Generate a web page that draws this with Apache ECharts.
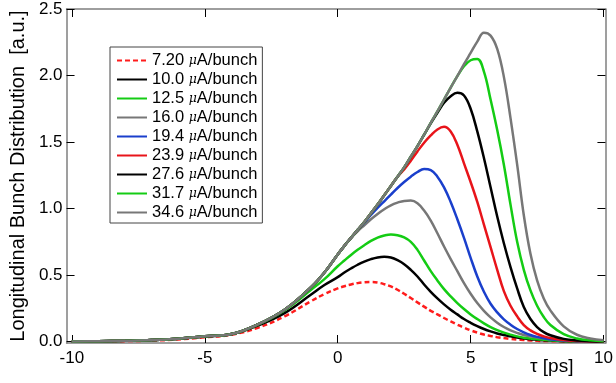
<!DOCTYPE html>
<html>
<head>
<meta charset="utf-8">
<script src="https://cdn.jsdelivr.net/npm/echarts@6/dist/echarts.min.js"></script>
<style>
html,body{margin:0;padding:0;background:#fff;}
#c{width:616px;height:383px;}
</style>
</head>
<body>
<div id="c"></div>
<script>
// τ sample positions [ps]
const tau = [-10,-9,-8,-7,-6,-5,-4,-3,-2,-1,-0.5,
  0,0.25,0.5,0.75,1,1.25,1.5,1.75,2,
  2.25,2.5,2.75,3,3.25,3.5,3.75,4,
  4.25,4.5,4.75,5,5.25,5.5,5.75,6,
  6.25,6.5,6.75,7,7.25,7.5,7.75,8,
  8.5,9,9.5,10];

const names = ['7.20 μA/bunch','10.0 μA/bunch','12.5 μA/bunch','16.0 μA/bunch','19.4 μA/bunch','23.9 μA/bunch','27.6 μA/bunch','31.7 μA/bunch','34.6 μA/bunch'];

const s7_20 = [0.001,0.002,0.004,0.008,0.017,0.033,0.052,0.105,0.19,0.305,0.358,
  0.40,0.417,0.43,0.44,0.446,0.448,0.444,0.432,0.415,
  0.39,0.36,0.328,0.295,0.263,0.232,0.205,0.178,
  0.152,0.128,0.105,0.085,0.068,0.054,0.043,0.034,
  0.027,0.021,0.016,0.012,0.009,0.007,0.005,0.004,
  0.002,0.001,0.0005,0];
const s10_0 = [0.002,0.004,0.007,0.012,0.021,0.039,0.055,0.122,0.215,0.355,0.426,
  0.485,0.52,0.55,0.578,0.602,0.62,0.633,0.638,0.632,
  0.612,0.582,0.54,0.49,0.43,0.375,0.325,0.28,
  0.24,0.205,0.17,0.142,0.117,0.095,0.077,0.062,
  0.05,0.04,0.031,0.024,0.018,0.014,0.01,0.008,
  0.004,0.002,0.001,0];
const s12_5 = [0.002,0.004,0.007,0.012,0.022,0.04,0.057,0.128,0.235,0.39,0.47,
  0.567,0.61,0.652,0.69,0.725,0.757,0.782,0.798,0.806,
  0.8,0.783,0.75,0.69,0.61,0.53,0.46,0.395,
  0.34,0.29,0.245,0.205,0.17,0.138,0.11,0.087,
  0.068,0.053,0.04,0.03,0.024,0.018,0.014,0.01,
  0.005,0.003,0.001,0];
const s16_0 = [0.002,0.004,0.007,0.012,0.022,0.04,0.057,0.13,0.24,0.41,0.52,
  0.655,0.72,0.78,0.83,0.875,0.92,0.96,0.995,1.025,
  1.045,1.058,1.06,1.04,0.985,0.91,0.815,0.715,
  0.62,0.53,0.44,0.36,0.29,0.232,0.183,0.143,
  0.11,0.085,0.066,0.05,0.04,0.031,0.024,0.018,
  0.01,0.005,0.002,0];
const s19_4 = [0.002,0.004,0.007,0.012,0.022,0.04,0.057,0.13,0.24,0.41,0.52,
  0.655,0.72,0.78,0.84,0.895,0.952,1.005,1.055,1.105,
  1.155,1.2,1.24,1.275,1.298,1.29,1.24,1.16,
  1.05,0.92,0.78,0.63,0.49,0.375,0.285,0.22,
  0.168,0.128,0.095,0.07,0.05,0.036,0.026,0.018,
  0.009,0.004,0.002,0];
const s23_9 = [0.002,0.004,0.007,0.012,0.022,0.04,0.057,0.13,0.24,0.41,0.52,
  0.655,0.72,0.78,0.84,0.90,0.965,1.03,1.10,1.17,
  1.24,1.295,1.36,1.43,1.495,1.55,1.595,1.615,
  1.58,1.48,1.34,1.2,1.05,0.88,0.71,0.54,
  0.38,0.27,0.19,0.125,0.085,0.058,0.04,0.027,
  0.012,0.005,0.002,0];
const s27_6 = [0.002,0.004,0.007,0.012,0.022,0.04,0.057,0.13,0.24,0.41,0.52,
  0.655,0.72,0.78,0.84,0.90,0.965,1.03,1.10,1.17,
  1.24,1.31,1.39,1.47,1.555,1.64,1.72,1.795,
  1.845,1.87,1.85,1.75,1.58,1.38,1.16,0.94,
  0.74,0.56,0.4,0.26,0.17,0.11,0.072,0.048,
  0.021,0.009,0.004,0.001];
const s31_7 = [0.002,0.004,0.007,0.012,0.022,0.04,0.057,0.13,0.24,0.41,0.52,
  0.655,0.72,0.78,0.84,0.90,0.965,1.03,1.10,1.17,
  1.24,1.31,1.39,1.47,1.555,1.645,1.73,1.82,
  1.91,1.995,2.07,2.115,2.125,2.03,1.82,1.59,
  1.33,1.03,0.75,0.54,0.385,0.27,0.185,0.125,
  0.056,0.024,0.01,0.004];
const s34_6 = [0.002,0.004,0.007,0.012,0.022,0.04,0.057,0.13,0.24,0.41,0.52,
  0.655,0.72,0.78,0.84,0.90,0.965,1.03,1.10,1.17,
  1.24,1.31,1.39,1.47,1.555,1.645,1.73,1.82,
  1.91,1.995,2.085,2.17,2.255,2.322,2.3,2.2,
  1.99,1.68,1.33,0.95,0.66,0.46,0.325,0.235,
  0.115,0.052,0.024,0.01];

const xTicks = [-10,-5,0,5,10];
const yTicks = [0,0.5,1,1.5,2,2.5];

const seriesVals = [s7_20,s10_0,s12_5,s16_0,s19_4,s23_9,s27_6,s31_7,s34_6];
const colors = ['#ff1c1c','#000000','#14cc14','#777777','#1a3fcc','#e8141a','#000000','#14cc14','#777777'];

const FONT = 'Liberation Sans, Arial, sans-serif';
const chart = echarts.init(document.getElementById('c'), null, {renderer:'canvas'});

const series = seriesVals.map((vals,i)=>({
  name: names[i],
  type: 'line',
  xAxisIndex: 0, yAxisIndex: 0,
  data: tau.map((t,k)=>[t, vals[k]]),
  smooth: 0.4,
  showSymbol: false,
  symbol: 'none',
  lineStyle: {color: colors[i], width: 2.5, type: i===0 ? [5,3] : 'solid'},
  itemStyle: {color: colors[i]},
  z: 2 + i,
  animation: false
}));

const frameLine = {show:true, onZero:false, lineStyle:{color:'#7f7f7f', width:1.5}};
const tickCommon = {show:true, inside:true, length:8, lineStyle:{color:'#000', width:1}};

chart.setOption({
  animation: false,
  backgroundColor: '#fff',
  grid: {left: 61, right: 4, top: 9, bottom: 40},
  legend: {
    orient: 'vertical',
    left: 110, top: 47,
    backgroundColor: '#fff',
    borderColor: '#444',
    borderWidth: 1,
    padding: [5,5,2,6],
    itemWidth: 30, itemHeight: 14,
    itemGap: 2,
    selectedMode: false,
    itemStyle: {opacity: 0},
    data: names,
    formatter: function(n){ const p = n.split(' '); return '{t|' + p[0] + ' }{m|μ}{t|A/bunch}'; },
    textStyle: {
      fontFamily: FONT, fontSize: 16.5, color: '#000',
      rich: {
        t: {fontFamily: FONT, fontSize: 16.5, color: '#000', lineHeight: 17.75},
        m: {fontFamily: 'DejaVu Serif, serif', fontStyle: 'italic', fontSize: 12.5, color: '#000', lineHeight: 17.75}
      }
    }
  },
  xAxis: [{
    type: 'value', min: -10.2, max: 10.07, position: 'bottom',
    axisLine: frameLine,
    axisTick: Object.assign({customValues: xTicks}, tickCommon),
    axisLabel: {customValues: xTicks, fontFamily: FONT, fontSize: 17, color: '#000', margin: 7},
    splitLine: {show: false}
  },{
    type: 'value', min: -10.2, max: 10.07, position: 'top',
    axisLine: frameLine,
    axisTick: Object.assign({customValues: xTicks}, tickCommon),
    axisLabel: {show: false},
    splitLine: {show: false}
  }],
  yAxis: [{
    type: 'value', min: -0.01, max: 2.5, position: 'left',
    name: 'Longitudinal Bunch Distribution  [a.u.]',
    nameLocation: 'middle', nameGap: 35,
    nameTextStyle: {fontFamily: FONT, fontSize: 20, color: '#000'},
    axisLine: frameLine,
    axisTick: Object.assign({customValues: yTicks}, tickCommon),
    axisLabel: {customValues: yTicks, fontFamily: FONT, fontSize: 17, color: '#000', margin: 4, formatter: v => v.toFixed(1)},
    splitLine: {show: false}
  },{
    type: 'value', min: -0.01, max: 2.5, position: 'right',
    axisLine: frameLine,
    axisTick: Object.assign({customValues: yTicks}, tickCommon),
    axisLabel: {show: false},
    splitLine: {show: false}
  }],
  graphic: [{
    type: 'text', left: 530, top: 357,
    style: {text: 'τ [ps]', font: '19px Liberation Sans, Arial, sans-serif', fill: '#000'}
  }],
  series: series
});
</script>
</body>
</html>
